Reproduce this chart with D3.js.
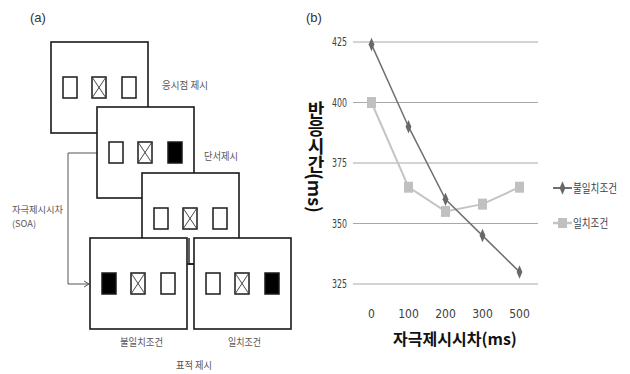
<!DOCTYPE html>
<html><head><meta charset="utf-8">
<script src="https://cdn.jsdelivr.net/npm/d3@7"></script>
<style>body{margin:0;background:#fff}</style>
</head><body>
<svg id="c" width="630" height="374"></svg>
<script>
// ---- data (panel b) ----
const soaLabels = ["0", "100", "200", "300", "500"];
const seriesNames = ["불일치조건", "일치조건"];
const incongruentRT = [424, 390, 360, 345, 330];
const congruentRT = [400, 365, 355, 358, 365];
const yTickValues = [325, 350, 375, 400, 425];
const xTitle = "자극제시시차(ms)";
const yTitle = "반응시간(ms)";

// ---- diagram content (panel a) ----
// each screen: three placeholders: "e" empty, "x" crossed, "f" filled
const screens = [
  { name: "fix",   cells: ["e", "x", "e"] },
  { name: "cue",   cells: ["e", "x", "f"] },
  { name: "isi",   cells: ["e", "x", "e"] },
  { name: "incon", cells: ["f", "x", "e"] },
  { name: "con",   cells: ["e", "x", "f"] }
];
const diagramLabels = ["응시점 제시", "단서제시", "자극제시시차", "(SOA)", "불일치조건", "일치조건", "표적 제시"];

const svg = d3.select("#c");
const KR = "'Noto Sans CJK KR','Noto Sans',sans-serif";

// ================= Panel (a) =================
const boxLayout = [
  { x: 51, y: 42 }, { x: 97, y: 107 }, { x: 142, y: 173 }, { x: 90, y: 238 }, { x: 194, y: 238 }
];
const boxW = 97, boxH = 91;
const cellOffsets = [12, 41, 71], cellW = 14, cellH = 21, cellY = 35;

svg.append("text").attr("x", 30).attr("y", 22).attr("font-family", "'Liberation Sans',Arial,sans-serif")
  .attr("font-size", 13).attr("fill", "#333").text("(a)");

// arrow path (drawn beneath boxes)
svg.append("path").attr("d", "M97,153 H68 V284 H88").attr("fill", "none").attr("stroke", "#555").attr("stroke-width", 1);
svg.append("path").attr("d", "M84,281 L89,284 L84,287").attr("fill", "none").attr("stroke", "#555").attr("stroke-width", 1);

const g = svg.append("g");
screens.forEach((s, i) => {
  const b = boxLayout[i];
  const sg = g.append("g").attr("transform", `translate(${b.x},${b.y})`);
  sg.append("rect").attr("width", boxW).attr("height", boxH).attr("fill", "#fff")
    .attr("stroke", "#1a1a1a").attr("stroke-width", 1.6);
  s.cells.forEach((c, j) => {
    const cx = cellOffsets[j];
    sg.append("rect").attr("x", cx).attr("y", cellY).attr("width", cellW).attr("height", cellH)
      .attr("fill", c === "f" ? "#000" : "#fff").attr("stroke", "#1a1a1a").attr("stroke-width", 1.5);
    if (c === "x") {
      sg.append("path").attr("d", `M${cx},${cellY} L${cx + cellW},${cellY + cellH} M${cx + cellW},${cellY} L${cx},${cellY + cellH}`)
        .attr("stroke", "#333").attr("stroke-width", 0.9);
    }
  });
});
// small connector between the two target screens
svg.append("path").attr("d", "M189,238 V264 H194").attr("fill", "none").attr("stroke", "#1a1a1a").attr("stroke-width", 1.4);

const labelPos = [
  { x: 162, y: 89, w: 46, s: 10 }, { x: 204, y: 160, w: 34, s: 10 }, { x: 12, y: 213, w: 51, s: 9 }, { x: 12, y: 227, w: 24, s: 9 },
  { x: 120, y: 346, w: 43, s: 10 }, { x: 228, y: 346, w: 33, s: 10 }, { x: 176, y: 369, w: 36, s: 10 }
];
diagramLabels.forEach((t, i) => {
  const p = labelPos[i];
  svg.append("text").attr("x", p.x).attr("y", p.y).attr("font-family", KR).attr("font-size", p.s)
    .attr("fill", "#555").attr("textLength", p.w).attr("lengthAdjust", "spacingAndGlyphs").text(t);
});

// ================= Panel (b) =================
svg.append("text").attr("x", 306).attr("y", 22).attr("font-family", "'Liberation Sans',Arial,sans-serif")
  .attr("font-size", 13).attr("fill", "#333").text("(b)");

const x = d3.scalePoint().domain(soaLabels).range([353, 538]).padding(0.5);
const y = d3.scaleLinear().domain([325, 425]).range([284, 42]);

// gridlines
svg.append("g").selectAll("line").data(yTickValues).join("line")
  .attr("x1", 353).attr("x2", 538).attr("y1", d => y(d)).attr("y2", d => y(d))
  .attr("stroke", "#a8a8a8").attr("stroke-width", 1);

const tickFont = "'Liberation Sans Narrow','DejaVu Sans Condensed',sans-serif";
svg.append("g").selectAll("text").data(yTickValues).join("text")
  .attr("x", 347).attr("y", d => y(d)).attr("dy", "0.36em").attr("text-anchor", "end")
  .attr("font-family", tickFont).attr("font-size", 12).attr("fill", "#404040")
  .attr("textLength", 15).attr("lengthAdjust", "spacingAndGlyphs").text(d => d);

svg.append("g").selectAll("text").data(soaLabels).join("text")
  .attr("x", d => x(d)).attr("y", 318).attr("text-anchor", "middle")
  .attr("font-family", tickFont).attr("font-size", 12).attr("fill", "#404040").text(d => d);

// titles
svg.append("text").attr("x", 455).attr("y", 345).attr("text-anchor", "middle")
  .attr("font-family", KR).attr("font-size", 16).attr("font-weight", "bold").attr("fill", "#111").text(xTitle);
svg.append("text").attr("x", 316).attr("y", 101).attr("text-anchor", "start")
  .style("writing-mode", "vertical-rl")
  .attr("font-family", KR).attr("font-size", 18).attr("font-weight", "bold").attr("fill", "#111").text(yTitle);

const series = [
  { name: seriesNames[0], values: incongruentRT, line: "#707070", marker: "#686868", width: 1.5, shape: "diamond" },
  { name: seriesNames[1], values: congruentRT, line: "#c4c4c4", marker: "#c0c0c0", width: 2, shape: "square" }
];
const lineGen = d3.line().x((d, i) => x(soaLabels[i])).y(d => y(d));

// draw light series first, then dark on top
[series[1], series[0]].forEach(s => {
  svg.append("path").datum(s.values).attr("d", lineGen).attr("fill", "none")
    .attr("stroke", s.line).attr("stroke-width", s.width);
  const mg = svg.append("g");
  s.values.forEach((v, i) => {
    const px = x(soaLabels[i]), py = y(v);
    if (s.shape === "diamond") {
      mg.append("path").attr("d", d3.symbol(d3.symbolDiamond, 40)())
        .attr("transform", `translate(${px},${py}) scale(0.85,1.15)`).attr("fill", s.marker);
    } else {
      mg.append("rect").attr("x", px - 4.5).attr("y", py - 5.5).attr("width", 9).attr("height", 11).attr("fill", s.marker);
    }
  });
});

// legend
const legY = [188, 223];
series.forEach((s, i) => {
  const lg = svg.append("g").attr("transform", `translate(553,${legY[i]})`);
  lg.append("line").attr("x1", 0).attr("x2", 19).attr("stroke", s.line).attr("stroke-width", s.width + 0.5);
  if (s.shape === "diamond") {
    lg.append("path").attr("d", d3.symbol(d3.symbolDiamond, 40)()).attr("transform", "translate(9.5,0) scale(0.85,1.15)").attr("fill", s.marker);
  } else {
    lg.append("rect").attr("x", 5).attr("y", -5).attr("width", 9).attr("height", 10).attr("fill", s.marker);
  }
  lg.append("text").attr("x", 20).attr("y", 0).attr("dy", "0.38em").attr("font-family", KR).attr("font-size", 12)
    .attr("fill", "#3a3f4a").attr("textLength", s.name.length * 8.8).attr("lengthAdjust", "spacingAndGlyphs").text(s.name);
});
</script>
</body></html>
